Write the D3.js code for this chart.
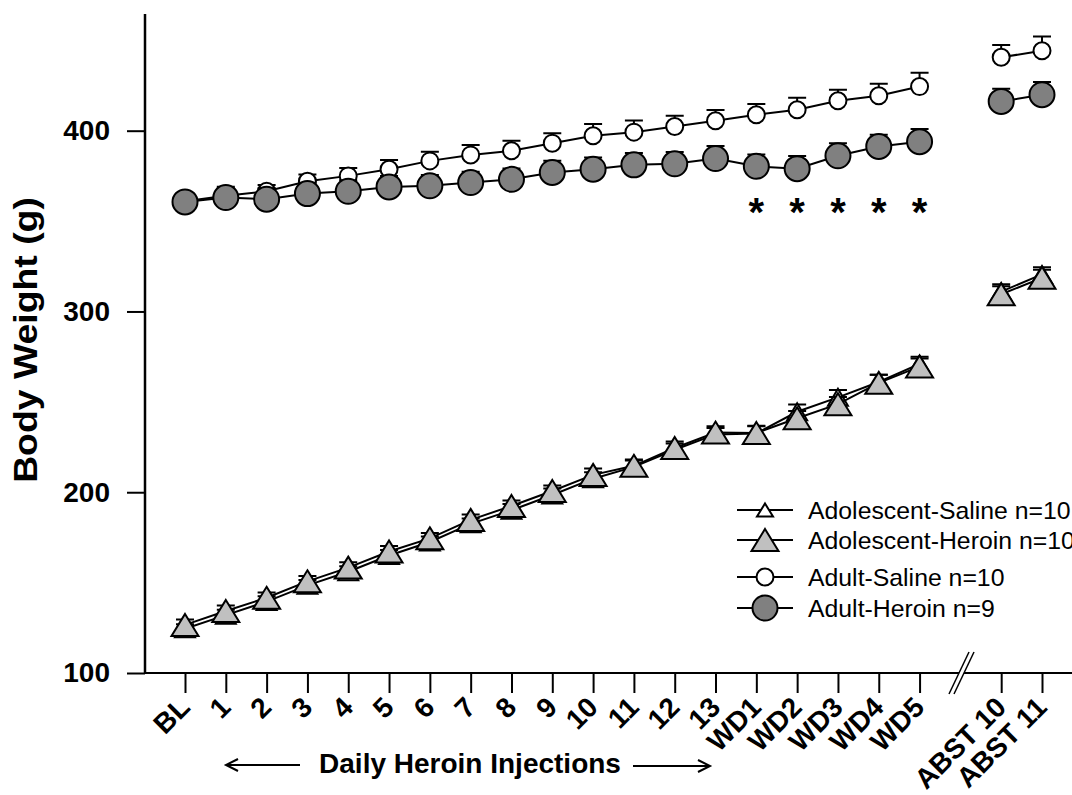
<!DOCTYPE html>
<html>
<head>
<meta charset="utf-8">
<script src="https://cdn.jsdelivr.net/npm/d3@7"></script>
<style>
  body { margin: 0; background: #fff; }
  text { font-family: "Liberation Sans", Arial, sans-serif; }
</style>
</head>
<body>
<svg width="1072" height="795"></svg>
<script>
var svg = d3.select('svg');

// data
var categories = ["BL","1","2","3","4","5","6","7","8","9","10","11","12","13",
                  "WD1","WD2","WD3","WD4","WD5","ABST 10","ABST 11"];

var adolSaline    = [124.5,132,139.5,148.5,156,165,172.5,182.5,190,198.5,207.5,214,223.5,232,232.5,244.5,252.5,261,271,311,320.5];
var adolSalineSem = [2.5,3,3,3,3,3,3,3,3.5,3.5,3.5,3.5,3.5,3.5,4,4,4,4,4,4,4];

var adolHeroin    = [126.6,134.3,141.6,150.7,158.3,167.2,174.5,184.7,192.4,200.7,209.6,214.6,224.5,233,232.8,240.9,248.7,260.5,269.5,309.5,318.6];
var adolHeroinSem = [3,3,3,3,3,3,3,3,3,3,3.5,3.5,3.5,3.5,4,4,4,4.5,4.5,4.5,4.5];

var adultSaline    = [361,364,366.5,372,375,378.7,383.3,386.6,388.9,393.1,397.2,399.2,402.3,405.5,408.8,411.6,416.6,419.3,424.4,440.6,444.2];
var adultSalineSem = [2,4,3.5,3.7,4.3,5.1,5.1,5.5,5.5,5.5,6.5,6.5,6,6,6,6.6,6,6.6,7.7,6.8,7.9];

var adultHeroin    = [360.6,363,362.1,365.2,366.5,368.9,369.5,371.3,373.1,376.9,378.7,381.1,381.7,384.6,380.3,379,386.1,391.3,393.9,416.2,419.9];
var adultHeroinSem = [5,6,6,6,6,6,6,6,6,6.5,6.5,6.5,6.5,7,6.5,7,7,6.5,7,7,7];

var yTicks = [100, 200, 300, 400];
var starCats = ["WD1","WD2","WD3","WD4","WD5"];

var legendNames = ["Adolescent-Saline n=10", "Adolescent-Heroin n=10", "Adult-Saline n=10", "Adult-Heroin n=9"];

// slot on the x axis, leaves a gap for the axis break before ABST
function slot(i) { return i < 19 ? i : i + 1; }

var x = d3.scaleLinear().domain([0, 21]).range([185, 1042]);
var y = d3.scaleLinear().domain([100, 464]).range([673, 15]);

// axes
var yAxis = svg.append('g')
  .attr('transform', 'translate(145,0)')
  .call(d3.axisLeft(y).tickValues(yTicks).tickSize(18).tickPadding(17));
yAxis.select('.domain').remove();
yAxis.selectAll('line').attr('stroke', '#000').attr('stroke-width', 2);
yAxis.selectAll('text')
  .attr('font-size', 28).attr('font-weight', 'bold')
  .attr('font-family', '"Liberation Sans", Arial, sans-serif')
  .attr('fill', '#000');

var xAxis = svg.append('g')
  .attr('transform', 'translate(0,673)')
  .call(d3.axisBottom(x)
    .tickValues(categories.map(function(c, i){ return slot(i); }))
    .tickFormat(function(d){ return categories[d < 19 ? d : d - 1]; })
    .tickSize(20));
xAxis.select('.domain').remove();
xAxis.selectAll('line').attr('stroke', '#000').attr('stroke-width', 2);
xAxis.selectAll('text')
  .attr('x', 0).attr('y', 0).attr('dy', 0)
  .attr('transform', 'translate(6,36) rotate(-45)')
  .attr('text-anchor', 'end')
  .attr('font-size', 28).attr('font-weight', 'bold')
  .attr('font-family', '"Liberation Sans", Arial, sans-serif')
  .attr('fill', '#000');

svg.append('line')
  .attr('x1', 145).attr('y1', 14).attr('x2', 145).attr('y2', 674)
  .attr('stroke', '#000').attr('stroke-width', 2.5);
svg.append('line')
  .attr('x1', 144).attr('y1', 673).attr('x2', 1072).attr('y2', 673)
  .attr('stroke', '#000').attr('stroke-width', 2);

// axis break
svg.append('polygon')
  .attr('points', '949,694 969,652 974,652 954,694')
  .attr('fill', '#fff').attr('stroke', 'none');
svg.selectAll('.brk')
  .data([0, 5])
  .enter()
  .append('line')
  .attr('x1', function(d){ return 949 + d; })
  .attr('y1', 694)
  .attr('x2', function(d){ return 969 + d; })
  .attr('y2', 652)
  .attr('stroke', '#000').attr('stroke-width', 1.5);

// axis titles
svg.append('text')
  .attr('transform', 'translate(37,340) rotate(-90) scale(1.15,1)')
  .attr('text-anchor', 'middle')
  .attr('font-size', 32.5).attr('font-weight', 'bold')
  .text('Body Weight (g)');

svg.append('text')
  .attr('x', 470).attr('y', 773)
  .attr('text-anchor', 'middle')
  .attr('font-size', 28).attr('font-weight', 'bold')
  .text('Daily Heroin Injections');

var arrows = svg.append('g').attr('stroke', '#000').attr('stroke-width', 2).attr('fill', 'none');
arrows.append('path').attr('d', 'M226,765 L300,765 M238,759 L226,765 L238,771');
arrows.append('path').attr('d', 'M633,766 L710,766 M698,760 L710,766 L698,772');

// series
function triPath(w, h) {
  return 'M0,' + (-h / 2) + 'L' + (w / 2) + ',' + (h / 2) + 'L' + (-w / 2) + ',' + (h / 2) + 'Z';
}

var series = [
  { vals: adolSaline,  sem: adolSalineSem,  shape: 'tri',    fill: '#fff',    w: 20, h: 17 },
  { vals: adolHeroin,  sem: adolHeroinSem,  shape: 'tri',    fill: '#c0c0c0', w: 27, h: 22 },
  { vals: adultSaline, sem: adultSalineSem, shape: 'circle', fill: '#fff',    r: 8.5 },
  { vals: adultHeroin, sem: adultHeroinSem, shape: 'circle', fill: '#808080', r: 12.5 }
];

var line = d3.line()
  .x(function(d){ return x(slot(d.i)); })
  .y(function(d){ return y(d.v); });

series.forEach(function(s) {
  var pts = s.vals.map(function(v, i){ return { i: i, v: v, e: s.sem[i] }; });
  var g = svg.append('g');

  g.append('path').attr('d', line(pts.slice(0, 19)))
    .attr('fill', 'none').attr('stroke', '#000').attr('stroke-width', 2);
  g.append('path').attr('d', line(pts.slice(19)))
    .attr('fill', 'none').attr('stroke', '#000').attr('stroke-width', 2);

  g.selectAll('.eb')
    .data(pts)
    .enter()
    .append('path')
    .attr('d', function(d){
      var px = x(slot(d.i)), top = y(d.v + d.e);
      return 'M' + px + ',' + y(d.v) + 'L' + px + ',' + top + 'M' + (px - 9) + ',' + top + 'L' + (px + 9) + ',' + top;
    })
    .attr('stroke', '#000').attr('stroke-width', 2).attr('fill', 'none');

  if (s.shape == 'circle') {
    g.selectAll('circle')
      .data(pts)
      .enter()
      .append('circle')
      .attr('cx', function(d){ return x(slot(d.i)); })
      .attr('cy', function(d){ return y(d.v); })
      .attr('r', s.r)
      .attr('fill', s.fill).attr('stroke', '#000').attr('stroke-width', 2);
  } else {
    g.selectAll('.tri')
      .data(pts)
      .enter()
      .append('path')
      .attr('d', triPath(s.w, s.h))
      .attr('transform', function(d){ return 'translate(' + x(slot(d.i)) + ',' + y(d.v) + ')'; })
      .attr('fill', s.fill).attr('stroke', '#000').attr('stroke-width', 2);
  }
});

// significance stars
svg.selectAll('.star')
  .data(starCats)
  .enter()
  .append('text')
  .attr('x', function(d){ return x(slot(categories.indexOf(d))); })
  .attr('y', 226)
  .attr('text-anchor', 'middle')
  .attr('font-size', 40).attr('font-weight', 'bold')
  .text('*');

// legend
var legRows = [510, 540, 577, 608];
var leg = svg.append('g');
legendNames.forEach(function(name, i) {
  var ly = legRows[i];
  leg.append('line')
    .attr('x1', 737).attr('y1', ly).attr('x2', 793).attr('y2', ly)
    .attr('stroke', '#000').attr('stroke-width', 2);
  if (i == 0) {
    leg.append('path').attr('d', triPath(16, 13)).attr('transform', 'translate(765,' + ly + ')')
      .attr('fill', '#fff').attr('stroke', '#000').attr('stroke-width', 2);
  } else if (i == 1) {
    leg.append('path').attr('d', triPath(27, 22)).attr('transform', 'translate(765,' + ly + ')')
      .attr('fill', '#c0c0c0').attr('stroke', '#000').attr('stroke-width', 2);
  } else {
    leg.append('circle').attr('cx', 765).attr('cy', ly).attr('r', i == 2 ? 8.5 : 12.5)
      .attr('fill', i == 2 ? '#fff' : '#808080').attr('stroke', '#000').attr('stroke-width', 2);
  }
  leg.append('text')
    .attr('x', 808).attr('y', ly + 9)
    .attr('font-size', 24.8)
    .text(name);
});
</script>
</body>
</html>
